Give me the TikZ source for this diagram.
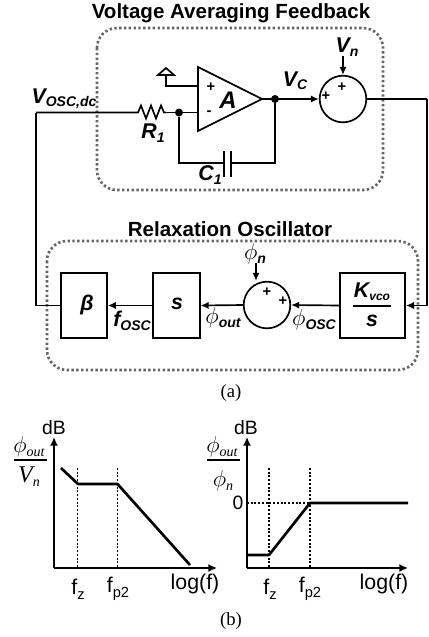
\documentclass[tikz,border=0pt]{standalone}
\usepackage{fontspec}
\setmainfont{Liberation Sans}
\newfontfamily\plotserif{Liberation Serif}
\usetikzlibrary{arrows.meta}
\newcommand{\lowtext}[1]{\raisebox{-0.3ex}{\fontsize{10.5}{10.5}\selectfont #1}}
\newcommand{\smalltext}[1]{\raisebox{-0.3ex}{\fontsize{9}{9}\selectfont #1}}
\newcommand{\plotsub}[1]{\raisebox{-0.45ex}{\fontsize{11}{11}\selectfont #1}}
\newcommand{\serifsub}[1]{\raisebox{-0.35ex}{\plotserif\itshape\fontsize{10.5}{10.5}\selectfont #1}}
\tikzset{
	wire/.style={line width=1.25pt},
	flow/.style={line width=1.25pt,-{Latex[length=6pt,width=5.5pt]}},
	axis/.style={line width=1.25pt,-{Latex[length=6.5pt,width=6pt]}},
	curve/.style={line width=2pt,line join=round},
	guide/.style={line width=1pt,dash pattern=on 1.5pt off 1.3pt},
	groupbox/.style={draw=black!60,line width=2pt,dash pattern=on 1.8pt off 1.8pt,rounded corners=15pt},
	blockbox/.style={draw,line width=1.25pt,inner sep=0pt,minimum height=48.5pt},
	sumnode/.style={draw,circle,line width=1.25pt,inner sep=0pt,minimum size=35pt},
	dotnode/.style={fill,circle,inner sep=0pt,minimum size=6pt},
	title/.style={font=\bfseries\fontsize{15.4}{15.4}\selectfont,inner sep=0pt},
	varlabel/.style={font=\bfseries\itshape\fontsize{16}{16}\selectfont,inner sep=0pt},
	signlabel/.style={font=\bfseries\fontsize{11}{11}\selectfont,inner sep=0pt},
	plotlabel/.style={font=\fontsize{16}{16}\selectfont,inner sep=0pt},
	seriflabel/.style={font=\plotserif\itshape\fontsize{16}{16}\selectfont,inner sep=0pt},
	caption/.style={font=\plotserif\fontsize{14}{14}\selectfont,inner sep=0pt},
}

\begin{document}
\begin{tikzpicture}[x=0.75pt,y=-0.75pt]
	\useasboundingbox (0,0) rectangle (429,637);
	\def\ampshape{(198,67) -- (262,99) -- (198,131) -- cycle}
	\def\groundshape{(166,68) -- (158,75) -- (174,75) -- cycle}
	\draw[groupbox] (97,28) rectangle (383,190);
	\draw[groupbox] (47,241) rectangle (418,370);
	\node[title] (titlefb) at (231,13) {Voltage Averaging Feedback};
	\node[title] (titleosc) at (230,229) {Relaxation Oscillator};

	\draw[wire,fill=white] \ampshape;
	\draw[wire] \groundshape;
	\coordinate (ampplus) at (198,86);
	\coordinate (ampminus) at (198,112.5);
	\coordinate (ampout) at (262,99);
	\coordinate (groundpin) at (166,75);
	\coordinate (loopleft) at (36,112.5);
	\coordinate (loopright) at (427,99);
	\coordinate (resl) at (134,112.5);
	\coordinate (resr) at (166,112.5);
	\coordinate (capl) at (224,163);
	\coordinate (capr) at (231,163);
	\node[dotnode] (jointin) at (179,112.5) {};
	\node[dotnode] (jointout) at (275,99) {};
	\node[sumnode] (sumv) at (343,99) {};
	\node[sumnode] (sumphi) at (267,305) {};
	\node[blockbox,minimum width=34.5pt] (blockbeta) at (84,305.5) {};
	\node[blockbox,minimum width=35pt] (blocks) at (176.5,305.5) {};
	\node[blockbox,minimum width=49pt] (blockk) at (372.5,305.5) {};
	\coordinate (noisev) at (343,56);
	\coordinate (noisephi) at (256,263);
	\coordinate (fracka) at (353,306);
	\coordinate (frackb) at (391,306);

	\draw[wire] (groundpin) |- (ampplus);
	\draw[wire] (resr) -- (jointin) -- (ampminus);
	\draw[wire] (loopleft) -- (resl) -- ++(4,0) -- ++(3,-7) -- ++(5,13) -- ++(5,-13) -- ++(5,13) -- ++(5,-13) -- ++(3,7) -- (resr);
	\draw[wire] (jointin) |- (capl);
	\draw[wire] (capr) -| (jointout);
	\draw[line width=1.5pt] (224,151) -- (224,177) (231,151) -- (231,177);
	\draw[flow] (ampout) -- (sumv.west);
	\draw[flow] (noisev) -- (sumv.north);
	\draw[wire] (sumv.east) -- (loopright);
	\draw[flow] (loopright) |- (blockk.east);
	\draw[flow] (blockk.west) -- (sumphi.east);
	\draw[flow] (sumphi.west) -- (blocks.east);
	\draw[flow] (blocks.west) -- (blockbeta.east);
	\draw[wire] (blockbeta.west) -| (loopleft);
	\draw[flow] (noisephi) -- (sumphi.north -| noisephi);
	\draw[line width=0.8pt] (fracka) -- (frackb);

	\node[varlabel] (labelvosc) at (64,99) {V\lowtext{OSC,dc}};
	\node[varlabel] (labelr) at (153,133) {R\lowtext{1}};
	\node[varlabel] (labelc) at (210,175) {C\lowtext{1}};
	\node[varlabel,font=\bfseries\itshape\fontsize{18}{18}\selectfont] (labela) at (228,100) {A};
	\node[varlabel] (labelvc) at (295,81) {V\lowtext{C}};
	\node[varlabel] (labelvn) at (347,47) {V\lowtext{n}};
	\node[signlabel] (signampp) at (211,87) {+};
	\node[signlabel] (signampm) at (209,113) {-};
	\node[signlabel] (signva) at (326,96) {+};
	\node[signlabel] (signvb) at (342,87) {+};
	\node[signlabel] (signpa) at (267,292) {+};
	\node[signlabel] (signpb) at (283,301) {+};
	\node[varlabel] (labelbeta) at (87,305) {β};
	\node[varlabel] (labels) at (177,304) {s};
	\node[varlabel] (labelk) at (372,292) {K\smalltext{vco}};
	\node[varlabel] (labelks) at (372,321) {s};
	\node[varlabel] (labelfosc) at (132,321) {f\lowtext{OSC}};
	\node[varlabel] (labelpout) at (223,318) {$\phi$\lowtext{out}};
	\node[varlabel] (labelposc) at (314,320) {$\phi$\lowtext{OSC}};
	\node[varlabel] (labelpn) at (255,254) {$\phi$\lowtext{n}};
	\node[caption] (captiona) at (231,393) {(a)};

	\coordinate (leftorigin) at (54,568);
	\coordinate (lefttop) at (54,437);
	\coordinate (leftend) at (217,568);
	\coordinate (leftfz) at (77.5,468);
	\coordinate (leftfp) at (117.5,468);
	\coordinate (fracla) at (14,460);
	\coordinate (fraclb) at (47,460);
	\draw[axis] (leftorigin) -- (lefttop);
	\draw[axis] (leftorigin) -- (leftend);
	\draw[guide] (leftfz) -- (leftfz |- leftorigin);
	\draw[guide] (leftfp) -- (leftfp |- leftorigin);
	\draw[curve] (61,468) -- (78,484) -- (117.5,484) -- (190,565);
	\draw[line width=0.8pt] (fracla) -- (fraclb);
	\node[plotlabel,font=\fontsize{14.5}{14.5}\selectfont] (leftdb) at (54,428) {dB};
	\node[plotlabel] (leftlabelfz) at (78,589) {f\plotsub{z}};
	\node[plotlabel] (leftlabelfp) at (118,589) {f\plotsub{p2}};
	\node[plotlabel] (leftlog) at (195,584) {log(f)};
	\node[seriflabel] (leftnum) at (29,447) {$\phi$\serifsub{out}};
	\node[seriflabel,font=\plotserif\itshape\fontsize{18}{18}\selectfont] (leftden) at (29,477) {V\serifsub{n}};

	\coordinate (rightorigin) at (247,568);
	\coordinate (righttop) at (247,437);
	\coordinate (rightend) at (408,568);
	\coordinate (rightfz) at (269,468);
	\coordinate (rightfp) at (310,468);
	\coordinate (zeroline) at (247,503);
	\coordinate (fracra) at (207,460);
	\coordinate (fracrb) at (240,460);
	\draw[axis] (rightorigin) -- (righttop);
	\draw[axis] (rightorigin) -- (rightend);
	\draw[guide] (rightfz) -- (rightfz |- rightorigin);
	\draw[guide] (rightfp) -- (rightfp |- rightorigin);
	\draw[guide] (zeroline) -- (zeroline -| rightfp);
	\draw[curve] (247,555) -- (269,555) -- (310,503) -- (408,503);
	\draw[line width=0.8pt] (fracra) -- (fracrb);
	\node[plotlabel,font=\fontsize{14.5}{14.5}\selectfont] (rightdb) at (246,428) {dB};
	\node[plotlabel,font=\fontsize{14.5}{14.5}\selectfont] (rightzero) at (238,503) {0};
	\node[plotlabel] (rightlabelfz) at (270,589) {f\plotsub{z}};
	\node[plotlabel] (rightlabelfp) at (310,589) {f\plotsub{p2}};
	\node[plotlabel] (rightlog) at (384,584) {log(f)};
	\node[seriflabel] (rightnum) at (222,447) {$\phi$\serifsub{out}};
	\node[seriflabel] (rightden) at (223,481) {$\phi$\serifsub{n}};
	\node[caption] (captionb) at (231,621) {(b)};
\end{tikzpicture}
\end{document}
